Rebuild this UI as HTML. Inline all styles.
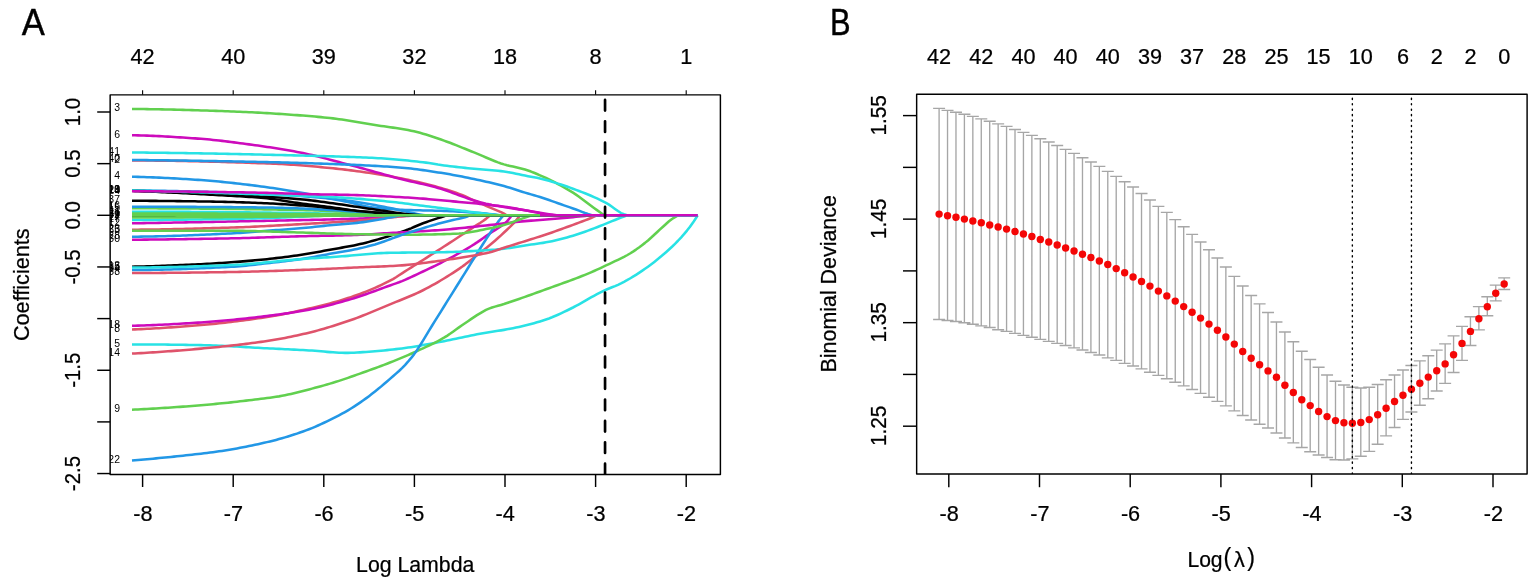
<!DOCTYPE html>
<html lang="en">
<head>
<meta charset="utf-8">
<title>LASSO coefficient paths and cross-validation</title>
<style>
html,body{margin:0;padding:0;background:#ffffff;}
body{width:1535px;height:584px;overflow:hidden;}
svg{display:block;}
</style>
</head>
<body>
<svg width="1535" height="584" viewBox="0 0 1535 584">
<rect x="0" y="0" width="1535" height="584" fill="#ffffff"/>
<defs><clipPath id="clipA"><rect x="110.15" y="94.85" width="610.25" height="379.65"/></clipPath><clipPath id="clipB"><rect x="916.65" y="94.3" width="610.45" height="379.8"/></clipPath></defs>
<text transform="translate(21.8,34.6) scale(0.93,1)" font-family='"Liberation Sans", "DejaVu Sans", sans-serif' font-size="37.2" fill="#000" stroke="#000" stroke-width="0.4">A</text>
<text transform="translate(829.9,35) scale(0.845,1)" font-family='"Liberation Sans", "DejaVu Sans", sans-serif' font-size="36.5" fill="#000" stroke="#000" stroke-width="0.45">B</text>
<g clip-path="url(#clipA)" fill="none" stroke-width="2.55" stroke-linejoin="round" stroke-linecap="butt">
<path d="M132,190.8 L135,190.92 L138,191.04 L141,191.17 L144,191.29 L147,191.42 L150,191.55 L153,191.69 L156,191.83 L159,191.96 L162,192.11 L165,192.25 L168,192.39 L171,192.54 L174,192.69 L177,192.84 L180,193 L183,193.15 L186,193.31 L189,193.47 L192,193.63 L195,193.79 L198,193.95 L201,194.12 L204,194.28 L207,194.45 L210,194.62 L213,194.79 L216,194.96 L219,195.13 L222,195.3 L225,195.47 L228,195.63 L231,195.8 L234,195.97 L237,196.14 L240,196.32 L243,196.5 L246,196.69 L249,196.89 L252,197.1 L255,197.32 L258,197.55 L261,197.79 L264,198.05 L267,198.33 L270,198.65 L273,199.03 L276,199.45 L279,199.91 L282,200.39 L285,200.9 L288,201.4 L291,201.91 L294,202.4 L297,202.87 L300,203.3 L303,203.71 L306,204.1 L309,204.48 L312,204.86 L315,205.23 L318,205.59 L321,205.96 L324,206.33 L327,206.71 L330,207.1 L333,207.5 L336,207.93 L339,208.38 L342,208.85 L345,209.32 L348,209.78 L351,210.2 L354,210.58 L357,210.9 L360,211.19 L363,211.46 L366,211.71 L369,211.95 L372,212.18 L375,212.4 L378,212.61 L381,212.81 L384,213.01 L387,213.22 L390,213.42 L393,213.63 L396,213.85 L399,214.08 L402,214.31 L405,214.53 L408,214.76 L411,214.99 L414,215.22 L415,215.3 L697.7,215.3" stroke="#000000"/>
<path d="M132,160.5 L135,160.5 L138,160.51 L141,160.52 L144,160.53 L147,160.55 L150,160.57 L153,160.59 L156,160.62 L159,160.65 L162,160.68 L165,160.72 L168,160.76 L171,160.8 L174,160.84 L177,160.89 L180,160.94 L183,161 L186,161.06 L189,161.12 L192,161.18 L195,161.24 L198,161.31 L201,161.38 L204,161.46 L207,161.53 L210,161.61 L213,161.69 L216,161.77 L219,161.85 L222,161.94 L225,162.03 L228,162.12 L231,162.21 L234,162.31 L237,162.4 L240,162.5 L243,162.6 L246,162.7 L249,162.8 L252,162.91 L255,163.01 L258,163.12 L261,163.23 L264,163.34 L267,163.45 L270,163.56 L273,163.67 L276,163.79 L279,163.92 L282,164.07 L285,164.23 L288,164.42 L291,164.61 L294,164.82 L297,165.04 L300,165.28 L303,165.52 L306,165.77 L309,166.03 L312,166.3 L315,166.57 L318,166.85 L321,167.13 L324,167.41 L327,167.69 L330,167.99 L333,168.29 L336,168.61 L339,168.94 L342,169.28 L345,169.64 L348,170 L351,170.38 L354,170.76 L357,171.16 L360,171.56 L363,171.98 L366,172.41 L369,172.85 L372,173.29 L375,173.75 L378,174.22 L381,174.71 L384,175.21 L387,175.73 L390,176.27 L393,176.83 L396,177.4 L399,177.99 L402,178.59 L405,179.21 L408,179.85 L411,180.5 L414,181.17 L417,181.85 L420,182.55 L423,183.27 L426,184 L429,184.75 L432,185.52 L435,186.32 L438,187.15 L441,188.01 L444,188.91 L447,189.83 L450,190.79 L453,191.78 L456,192.82 L459,193.89 L462,195 L465,196.25 L468,197.64 L471,199.08 L474,200.45 L477,201.79 L480,203.12 L483,204.44 L486,205.76 L489,207.07 L492,208.34 L495,209.57 L498,210.81 L501,212.16 L504,213.72 L506.7,215.3 L697.7,215.3" stroke="#DF536B"/>
<path d="M132,109 L135,109.02 L138,109.04 L141,109.07 L144,109.1 L147,109.13 L150,109.17 L153,109.22 L156,109.27 L159,109.32 L162,109.38 L165,109.44 L168,109.51 L171,109.57 L174,109.64 L177,109.72 L180,109.8 L183,109.88 L186,109.96 L189,110.04 L192,110.13 L195,110.22 L198,110.31 L201,110.41 L204,110.5 L207,110.6 L210,110.7 L213,110.79 L216,110.89 L219,111 L222,111.1 L225,111.2 L228,111.31 L231,111.42 L234,111.53 L237,111.65 L240,111.78 L243,111.91 L246,112.04 L249,112.18 L252,112.33 L255,112.48 L258,112.63 L261,112.8 L264,112.96 L267,113.13 L270,113.31 L273,113.49 L276,113.68 L279,113.87 L282,114.07 L285,114.27 L288,114.48 L291,114.69 L294,114.91 L297,115.14 L300,115.37 L303,115.6 L306,115.85 L309,116.09 L312,116.34 L315,116.6 L318,116.86 L321,117.13 L324,117.41 L327,117.69 L330,118.02 L333,118.37 L336,118.76 L339,119.17 L342,119.61 L345,120.06 L348,120.54 L351,121.03 L354,121.52 L357,122.03 L360,122.53 L363,123.04 L366,123.54 L369,124.04 L372,124.53 L375,125 L378,125.46 L381,125.9 L384,126.33 L387,126.76 L390,127.19 L393,127.62 L396,128.07 L399,128.54 L402,129.03 L405,129.55 L408,130.1 L411,130.69 L414,131.33 L417,132.05 L420,132.84 L423,133.69 L426,134.59 L429,135.54 L432,136.52 L435,137.52 L438,138.53 L441,139.54 L444,140.59 L447,141.68 L450,142.81 L453,143.97 L456,145.16 L459,146.36 L462,147.58 L465,148.8 L468,150.02 L471,151.23 L474,152.42 L477,153.63 L480,154.89 L483,156.18 L486,157.48 L489,158.77 L492,160.03 L495,161.24 L498,162.38 L501,163.43 L504,164.38 L507,165.2 L510,165.93 L513,166.61 L516,167.26 L519,167.94 L522,168.68 L525,169.52 L528,170.48 L531,171.57 L534,172.75 L537,174.01 L540,175.31 L543,176.63 L546,178 L549,179.44 L552,180.94 L555,182.48 L558,184.07 L561,185.7 L564,187.37 L567,189.08 L570,190.86 L573,192.71 L576,194.64 L579,196.69 L582,198.91 L585,201.23 L588,203.56 L591,205.82 L594,207.98 L597,210.13 L600,212.3 L603,214.54 L604,215.3 L697.7,215.3" stroke="#61D04F"/>
<path d="M132,176.75 L135,176.81 L138,176.88 L141,176.96 L144,177.05 L147,177.15 L150,177.25 L153,177.37 L156,177.5 L159,177.63 L162,177.77 L165,177.92 L168,178.07 L171,178.23 L174,178.39 L177,178.56 L180,178.74 L183,178.92 L186,179.1 L189,179.29 L192,179.48 L195,179.67 L198,179.87 L201,180.07 L204,180.28 L207,180.51 L210,180.75 L213,181.01 L216,181.28 L219,181.56 L222,181.86 L225,182.16 L228,182.48 L231,182.8 L234,183.13 L237,183.47 L240,183.82 L243,184.17 L246,184.52 L249,184.88 L252,185.24 L255,185.62 L258,186 L261,186.4 L264,186.81 L267,187.24 L270,187.67 L273,188.11 L276,188.56 L279,189.03 L282,189.5 L285,189.98 L288,190.47 L291,190.96 L294,191.47 L297,191.98 L300,192.5 L303,193.04 L306,193.61 L309,194.2 L312,194.82 L315,195.44 L318,196.06 L321,196.69 L324,197.3 L327,197.9 L330,198.49 L333,199.09 L336,199.68 L339,200.27 L342,200.87 L345,201.47 L348,202.09 L351,202.71 L354,203.4 L357,204.14 L360,204.9 L363,205.63 L366,206.31 L369,206.91 L372,207.38 L375,207.72 L378,208.04 L381,208.33 L384,208.61 L387,208.86 L390,209.09 L393,209.3 L396,209.49 L399,209.66 L402,209.81 L405,209.94 L408,210.05 L411,210.14 L414,210.22 L417,210.29 L420,210.35 L423,210.4 L426,210.46 L429,210.52 L432,210.58 L435,210.65 L438,210.74 L441,210.83 L444,210.95 L447,211.07 L450,211.2 L453,211.35 L456,211.5 L459,211.67 L462,211.84 L465,212.03 L468,212.23 L471,212.44 L474,212.66 L477,212.89 L480,213.13 L483,213.38 L486,213.64 L489,213.91 L492,214.21 L495,214.59 L498,215.01 L500,215.3 L697.7,215.3" stroke="#2297E6"/>
<path d="M132,344.4 L135,344.4 L138,344.41 L141,344.42 L144,344.43 L147,344.44 L150,344.46 L153,344.48 L156,344.51 L159,344.53 L162,344.56 L165,344.6 L168,344.63 L171,344.67 L174,344.71 L177,344.75 L180,344.79 L183,344.84 L186,344.88 L189,344.93 L192,344.98 L195,345.03 L198,345.08 L201,345.14 L204,345.19 L207,345.25 L210,345.33 L213,345.43 L216,345.53 L219,345.65 L222,345.79 L225,345.93 L228,346.08 L231,346.24 L234,346.41 L237,346.58 L240,346.75 L243,346.93 L246,347.11 L249,347.29 L252,347.47 L255,347.65 L258,347.82 L261,347.99 L264,348.15 L267,348.3 L270,348.45 L273,348.59 L276,348.74 L279,348.88 L282,349.03 L285,349.17 L288,349.31 L291,349.46 L294,349.61 L297,349.76 L300,349.91 L303,350.07 L306,350.24 L309,350.41 L312,350.6 L315,350.82 L318,351.07 L321,351.33 L324,351.6 L327,351.86 L330,352.11 L333,352.34 L336,352.55 L339,352.71 L342,352.83 L345,352.89 L348,352.89 L351,352.83 L354,352.71 L357,352.55 L360,352.36 L363,352.14 L366,351.91 L369,351.68 L372,351.46 L375,351.24 L378,350.99 L381,350.72 L384,350.44 L387,350.14 L390,349.82 L393,349.49 L396,349.14 L399,348.78 L402,348.41 L405,348.02 L408,347.6 L411,347.15 L414,346.66 L417,346.16 L420,345.64 L423,345.11 L426,344.56 L429,344.02 L432,343.47 L435,342.91 L438,342.34 L441,341.74 L444,341.14 L447,340.53 L450,339.91 L453,339.29 L456,338.67 L459,338.05 L462,337.44 L465,336.83 L468,336.21 L471,335.59 L474,334.96 L477,334.35 L480,333.77 L483,333.21 L486,332.69 L489,332.21 L492,331.75 L495,331.3 L498,330.85 L501,330.38 L504,329.87 L507,329.33 L510,328.77 L513,328.19 L516,327.58 L519,326.94 L522,326.27 L525,325.56 L528,324.82 L531,324.03 L534,323.21 L537,322.35 L540,321.45 L543,320.5 L546,319.5 L549,318.44 L552,317.29 L555,316.05 L558,314.74 L561,313.36 L564,311.94 L567,310.48 L570,308.99 L573,307.5 L576,305.92 L579,304.27 L582,302.57 L585,300.84 L588,299.11 L591,297.41 L594,295.76 L597,294.18 L600,292.65 L603,291.17 L606,289.77 L609,288.5 L612,287.3 L615,286.11 L618,284.83 L621,283.41 L624,281.86 L627,280.22 L630,278.49 L633,276.68 L636,274.8 L639,272.86 L642,270.86 L645,268.81 L648,266.68 L651,264.46 L654,262.16 L657,259.78 L660,257.32 L663,254.78 L666,252.18 L669,249.5 L672,246.72 L675,243.8 L678,240.75 L681,237.55 L684,234.18 L687,230.57 L690,226.71 L693,222.58 L696,218.03 L697.7,215.3" stroke="#28E2E5"/>
<path d="M132,135.25 L135,135.3 L138,135.37 L141,135.44 L144,135.53 L147,135.63 L150,135.75 L153,135.87 L156,136 L159,136.14 L162,136.3 L165,136.45 L168,136.62 L171,136.8 L174,136.98 L177,137.17 L180,137.36 L183,137.56 L186,137.76 L189,137.97 L192,138.18 L195,138.39 L198,138.61 L201,138.82 L204,139.06 L207,139.32 L210,139.6 L213,139.9 L216,140.21 L219,140.54 L222,140.88 L225,141.24 L228,141.61 L231,141.99 L234,142.37 L237,142.76 L240,143.16 L243,143.56 L246,143.96 L249,144.37 L252,144.77 L255,145.18 L258,145.59 L261,146.02 L264,146.45 L267,146.89 L270,147.34 L273,147.8 L276,148.28 L279,148.76 L282,149.25 L285,149.76 L288,150.28 L291,150.81 L294,151.36 L297,151.92 L300,152.5 L303,153.1 L306,153.74 L309,154.4 L312,155.09 L315,155.81 L318,156.55 L321,157.3 L324,158.07 L327,158.86 L330,159.65 L333,160.45 L336,161.26 L339,162.07 L342,162.87 L345,163.68 L348,164.47 L351,165.26 L354,166.06 L357,166.87 L360,167.69 L363,168.52 L366,169.36 L369,170.21 L372,171.05 L375,171.9 L378,172.75 L381,173.59 L384,174.43 L387,175.26 L390,176.09 L393,176.9 L396,177.7 L399,178.49 L402,179.26 L405,179.99 L408,180.71 L411,181.4 L414,182.08 L417,182.76 L420,183.44 L423,184.13 L426,184.83 L429,185.55 L432,186.31 L435,187.09 L438,187.92 L441,188.8 L444,189.77 L447,190.82 L450,191.91 L453,193.02 L456,194.11 L459,195.18 L462,196.28 L465,197.39 L468,198.47 L471,199.5 L474,200.44 L477,201.31 L480,202.14 L483,202.93 L486,203.67 L489,204.33 L492,204.91 L495,205.4 L498,205.84 L501,206.24 L504,206.64 L507,207.07 L510,207.55 L513,208.06 L516,208.6 L519,209.15 L522,209.72 L525,210.29 L528,210.85 L531,211.41 L534,211.99 L537,212.58 L540,213.2 L543,213.87 L546,214.62 L548.5,215.3 L697.7,215.3" stroke="#CD0BBC"/>
<path d="M132,216.3 L135,216.3 L138,216.3 L141,216.3 L144,216.3 L147,216.29 L150,216.29 L153,216.29 L156,216.28 L159,216.28 L162,216.27 L165,216.27 L168,216.26 L171,216.26 L174,216.25 L177,216.25 L180,216.24 L183,216.23 L186,216.22 L189,216.22 L192,216.21 L195,216.2 L198,216.19 L201,216.18 L204,216.17 L207,216.16 L210,216.15 L213,216.14 L216,216.13 L219,216.12 L222,216.11 L225,216.1 L228,216.09 L231,216.08 L234,216.06 L237,216.05 L240,216.04 L243,216.03 L246,216.02 L249,216 L252,215.99 L255,215.98 L258,215.96 L261,215.95 L264,215.93 L267,215.91 L270,215.89 L273,215.87 L276,215.84 L279,215.82 L282,215.79 L285,215.77 L288,215.74 L291,215.71 L294,215.68 L297,215.65 L300,215.62 L303,215.59 L306,215.56 L309,215.53 L312,215.5 L315,215.47 L318,215.43 L321,215.4 L324,215.37 L327,215.33 L330,215.3 L697.7,215.3" stroke="#000000"/>
<path d="M132,329.5 L135,329.39 L138,329.27 L141,329.13 L144,328.99 L147,328.84 L150,328.68 L153,328.52 L156,328.34 L159,328.16 L162,327.97 L165,327.78 L168,327.57 L171,327.37 L174,327.15 L177,326.93 L180,326.7 L183,326.47 L186,326.24 L189,325.99 L192,325.75 L195,325.5 L198,325.25 L201,324.99 L204,324.73 L207,324.47 L210,324.19 L213,323.91 L216,323.61 L219,323.3 L222,322.98 L225,322.65 L228,322.31 L231,321.95 L234,321.59 L237,321.22 L240,320.84 L243,320.45 L246,320.05 L249,319.64 L252,319.22 L255,318.79 L258,318.36 L261,317.91 L264,317.46 L267,317 L270,316.52 L273,316.02 L276,315.5 L279,314.95 L282,314.38 L285,313.79 L288,313.19 L291,312.57 L294,311.93 L297,311.28 L300,310.62 L303,309.95 L306,309.27 L309,308.58 L312,307.88 L315,307.17 L318,306.44 L321,305.7 L324,304.95 L327,304.17 L330,303.38 L333,302.56 L336,301.72 L339,300.85 L342,299.96 L345,299.04 L348,298.09 L351,297.1 L354,296.08 L357,295.02 L360,293.93 L363,292.8 L366,291.62 L369,290.41 L372,289.15 L375,287.85 L378,286.51 L381,285.12 L384,283.68 L387,282.2 L390,280.66 L393,279.07 L396,277.23 L399,275.24 L402,273.33 L405,271.44 L408,269.54 L411,267.63 L414,265.73 L417,263.82 L420,261.91 L423,260 L426,258.08 L429,256.17 L432,254.25 L435,252.33 L438,250.4 L441,248.47 L444,246.54 L447,244.61 L450,242.66 L453,240.71 L456,238.76 L459,236.79 L462,234.81 L465,232.83 L468,230.83 L471,228.83 L474,226.84 L477,224.93 L480,223.03 L483,221.03 L486,218.85 L489,216.26 L490,215.3 L697.7,215.3" stroke="#DF536B"/>
<path d="M132,409.7 L135,409.56 L138,409.42 L141,409.27 L144,409.11 L147,408.95 L150,408.78 L153,408.61 L156,408.43 L159,408.25 L162,408.06 L165,407.87 L168,407.67 L171,407.47 L174,407.27 L177,407.07 L180,406.86 L183,406.64 L186,406.43 L189,406.2 L192,405.97 L195,405.73 L198,405.48 L201,405.23 L204,404.97 L207,404.71 L210,404.44 L213,404.16 L216,403.88 L219,403.59 L222,403.3 L225,403 L228,402.69 L231,402.37 L234,402.03 L237,401.69 L240,401.33 L243,400.98 L246,400.62 L249,400.27 L252,399.91 L255,399.55 L258,399.19 L261,398.81 L264,398.43 L267,398.04 L270,397.65 L273,397.26 L276,396.83 L279,396.37 L282,395.84 L285,395.26 L288,394.62 L291,393.93 L294,393.21 L297,392.46 L300,391.7 L303,390.93 L306,390.16 L309,389.39 L312,388.62 L315,387.83 L318,387.03 L321,386.21 L324,385.37 L327,384.52 L330,383.64 L333,382.75 L336,381.83 L339,380.88 L342,379.89 L345,378.88 L348,377.84 L351,376.79 L354,375.73 L357,374.66 L360,373.58 L363,372.52 L366,371.45 L369,370.38 L372,369.3 L375,368.21 L378,367.12 L381,366 L384,364.87 L387,363.72 L390,362.54 L393,361.34 L396,360.13 L399,358.9 L402,357.65 L405,356.37 L408,355.08 L411,353.77 L414,352.44 L417,351.08 L420,349.71 L423,348.32 L426,346.93 L429,345.51 L432,344.06 L435,342.57 L438,341.02 L441,339.39 L444,337.68 L447,335.82 L450,333.8 L453,331.68 L456,329.52 L459,327.36 L462,325.27 L465,323.25 L468,321.2 L471,319.16 L474,317.14 L477,315.18 L480,313.31 L483,311.54 L486,309.89 L489,308.59 L492,307.55 L495,306.63 L498,305.79 L501,304.94 L504,304.03 L507,303.04 L510,302.04 L513,301.02 L516,299.99 L519,298.95 L522,297.9 L525,296.84 L528,295.77 L531,294.69 L534,293.62 L537,292.53 L540,291.45 L543,290.36 L546,289.27 L549,288.19 L552,287.11 L555,286.04 L558,284.96 L561,283.89 L564,282.8 L567,281.71 L570,280.61 L573,279.49 L576,278.36 L579,277.21 L582,276.03 L585,274.83 L588,273.6 L591,272.33 L594,271.02 L597,269.67 L600,268.29 L603,266.89 L606,265.47 L609,264.05 L612,262.61 L615,261.21 L618,259.8 L621,258.37 L624,256.86 L627,255.25 L630,253.51 L633,251.61 L636,249.58 L639,247.44 L642,245.19 L645,242.87 L648,240.43 L651,237.8 L654,235.04 L657,232.23 L660,229.44 L663,226.73 L666,223.98 L669,221.3 L672,219.01 L675,217.06 L678,215.4 L678.2,215.3 L697.7,215.3" stroke="#61D04F"/>
<path d="M132,190.5 L135,190.51 L138,190.53 L141,190.55 L144,190.57 L147,190.6 L150,190.64 L153,190.67 L156,190.71 L159,190.76 L162,190.8 L165,190.85 L168,190.91 L171,190.97 L174,191.03 L177,191.09 L180,191.15 L183,191.22 L186,191.29 L189,191.36 L192,191.44 L195,191.51 L198,191.59 L201,191.67 L204,191.75 L207,191.83 L210,191.92 L213,192 L216,192.09 L219,192.18 L222,192.26 L225,192.35 L228,192.44 L231,192.53 L234,192.62 L237,192.72 L240,192.83 L243,192.94 L246,193.06 L249,193.18 L252,193.3 L255,193.44 L258,193.57 L261,193.72 L264,193.87 L267,194.02 L270,194.18 L273,194.34 L276,194.5 L279,194.68 L282,194.85 L285,195.03 L288,195.22 L291,195.41 L294,195.6 L297,195.8 L300,196 L303,196.21 L306,196.43 L309,196.67 L312,196.92 L315,197.17 L318,197.45 L321,197.73 L324,198.02 L327,198.33 L330,198.64 L333,198.97 L336,199.3 L339,199.65 L342,200 L345,200.37 L348,200.74 L351,201.13 L354,201.54 L357,201.98 L360,202.45 L363,202.94 L366,203.45 L369,203.98 L372,204.53 L375,205.08 L378,205.66 L381,206.24 L384,206.82 L387,207.41 L390,208 L393,208.61 L396,209.27 L399,209.95 L402,210.64 L405,211.33 L408,212.02 L411,212.68 L414,213.3 L417,213.88 L420,214.43 L423,214.96 L425,215.3 L697.7,215.3" stroke="#2297E6"/>
<path d="M132,211.7 L135,211.7 L138,211.7 L141,211.7 L144,211.71 L147,211.71 L150,211.72 L153,211.73 L156,211.73 L159,211.74 L162,211.75 L165,211.76 L168,211.77 L171,211.79 L174,211.8 L177,211.81 L180,211.83 L183,211.85 L186,211.86 L189,211.88 L192,211.9 L195,211.92 L198,211.94 L201,211.96 L204,211.98 L207,212 L210,212.03 L213,212.05 L216,212.08 L219,212.1 L222,212.13 L225,212.15 L228,212.18 L231,212.21 L234,212.24 L237,212.27 L240,212.3 L243,212.33 L246,212.36 L249,212.39 L252,212.42 L255,212.45 L258,212.49 L261,212.52 L264,212.56 L267,212.59 L270,212.63 L273,212.66 L276,212.7 L279,212.73 L282,212.77 L285,212.81 L288,212.85 L291,212.88 L294,212.92 L297,212.96 L300,213 L303,213.04 L306,213.09 L309,213.14 L312,213.2 L315,213.26 L318,213.33 L321,213.4 L324,213.47 L327,213.55 L330,213.63 L333,213.72 L336,213.8 L339,213.89 L342,213.99 L345,214.08 L348,214.18 L351,214.28 L354,214.38 L357,214.49 L360,214.59 L363,214.7 L366,214.8 L369,214.91 L372,215.01 L375,215.12 L378,215.23 L380,215.3 L697.7,215.3" stroke="#28E2E5"/>
<path d="M132,223.3 L135,223.25 L138,223.21 L141,223.16 L144,223.11 L147,223.06 L150,223.01 L153,222.96 L156,222.91 L159,222.86 L162,222.81 L165,222.76 L168,222.71 L171,222.65 L174,222.6 L177,222.55 L180,222.49 L183,222.44 L186,222.39 L189,222.33 L192,222.28 L195,222.22 L198,222.17 L201,222.11 L204,222.05 L207,222 L210,221.94 L213,221.88 L216,221.82 L219,221.76 L222,221.71 L225,221.65 L228,221.59 L231,221.53 L234,221.47 L237,221.41 L240,221.35 L243,221.29 L246,221.23 L249,221.17 L252,221.1 L255,221.04 L258,220.98 L261,220.92 L264,220.86 L267,220.79 L270,220.73 L273,220.67 L276,220.61 L279,220.55 L282,220.49 L285,220.43 L288,220.37 L291,220.31 L294,220.26 L297,220.2 L300,220.14 L303,220.08 L306,220.01 L309,219.95 L312,219.89 L315,219.82 L318,219.75 L321,219.69 L324,219.62 L327,219.54 L330,219.47 L333,219.39 L336,219.31 L339,219.23 L342,219.14 L345,219.05 L348,218.96 L351,218.87 L354,218.77 L357,218.66 L360,218.55 L363,218.41 L366,218.26 L369,218.1 L372,217.93 L375,217.76 L378,217.57 L381,217.39 L384,217.2 L387,217.02 L390,216.84 L393,216.67 L396,216.5 L399,216.35 L402,216.21 L405,216.07 L408,215.93 L411,215.8 L414,215.67 L417,215.54 L420,215.42 L423,215.3 L697.7,215.3" stroke="#CD0BBC"/>
<path d="M132,266.7 L135,266.64 L138,266.57 L141,266.5 L144,266.43 L147,266.34 L150,266.25 L153,266.16 L156,266.06 L159,265.96 L162,265.85 L165,265.74 L168,265.62 L171,265.51 L174,265.38 L177,265.26 L180,265.13 L183,264.99 L186,264.86 L189,264.72 L192,264.58 L195,264.44 L198,264.3 L201,264.15 L204,264 L207,263.84 L210,263.67 L213,263.5 L216,263.32 L219,263.13 L222,262.93 L225,262.73 L228,262.52 L231,262.31 L234,262.09 L237,261.86 L240,261.62 L243,261.38 L246,261.14 L249,260.89 L252,260.63 L255,260.35 L258,260.07 L261,259.78 L264,259.47 L267,259.15 L270,258.82 L273,258.48 L276,258.13 L279,257.77 L282,257.4 L285,257.02 L288,256.64 L291,256.24 L294,255.83 L297,255.42 L300,255 L303,254.56 L306,254.09 L309,253.59 L312,253.07 L315,252.53 L318,251.98 L321,251.42 L324,250.86 L327,250.3 L330,249.74 L333,249.2 L336,248.67 L339,248.15 L342,247.63 L345,247.1 L348,246.57 L351,246 L354,245.41 L357,244.79 L360,244.11 L363,243.4 L366,242.66 L369,241.88 L372,241.07 L375,240.24 L378,239.39 L381,238.51 L384,237.61 L387,236.68 L390,235.73 L393,234.76 L396,233.76 L399,232.74 L402,231.69 L405,230.62 L408,229.51 L411,228.31 L414,227.03 L417,225.74 L420,224.48 L423,223.3 L426,222.21 L429,221.16 L432,220.15 L435,219.15 L438,218.16 L441,217.17 L444,216.18 L446.7,215.3 L697.7,215.3" stroke="#000000"/>
<path d="M132,353.6 L135,353.45 L138,353.29 L141,353.12 L144,352.94 L147,352.76 L150,352.58 L153,352.38 L156,352.18 L159,351.98 L162,351.77 L165,351.55 L168,351.33 L171,351.11 L174,350.87 L177,350.64 L180,350.4 L183,350.15 L186,349.9 L189,349.65 L192,349.4 L195,349.14 L198,348.87 L201,348.61 L204,348.34 L207,348.06 L210,347.78 L213,347.5 L216,347.21 L219,346.91 L222,346.6 L225,346.29 L228,345.97 L231,345.64 L234,345.31 L237,344.96 L240,344.61 L243,344.25 L246,343.88 L249,343.49 L252,343.1 L255,342.7 L258,342.29 L261,341.87 L264,341.44 L267,341 L270,340.54 L273,340.06 L276,339.55 L279,339.02 L282,338.47 L285,337.9 L288,337.31 L291,336.7 L294,336.07 L297,335.43 L300,334.76 L303,334.08 L306,333.39 L309,332.68 L312,331.94 L315,331.17 L318,330.37 L321,329.54 L324,328.68 L327,327.8 L330,326.89 L333,325.96 L336,325 L339,324.03 L342,323.04 L345,322.04 L348,321.02 L351,320 L354,318.94 L357,317.84 L360,316.71 L363,315.55 L366,314.36 L369,313.15 L372,311.92 L375,310.68 L378,309.43 L381,308.17 L384,306.91 L387,305.65 L390,304.4 L393,303.15 L396,301.93 L399,300.71 L402,299.5 L405,298.28 L408,297.04 L411,295.77 L414,294.47 L417,293.13 L420,291.73 L423,290.27 L426,288.73 L429,287.13 L432,285.48 L435,283.78 L438,282.04 L441,280.27 L444,278.48 L447,276.66 L450,274.79 L453,272.88 L456,270.91 L459,268.89 L462,266.8 L465,264.6 L468,262.27 L471,259.88 L474,257.52 L477,255.22 L480,252.92 L483,250.61 L486,248.26 L489,245.83 L492,243.31 L495,240.72 L498,238.06 L501,235.33 L504,232.55 L507,229.71 L510,226.86 L513,223.87 L516,220.53 L519,216.67 L520,215.3 L697.7,215.3" stroke="#DF536B"/>
<path d="M132,208.3 L135,208.3 L138,208.3 L141,208.31 L144,208.31 L147,208.32 L150,208.32 L153,208.33 L156,208.34 L159,208.35 L162,208.36 L165,208.38 L168,208.39 L171,208.41 L174,208.42 L177,208.44 L180,208.46 L183,208.48 L186,208.5 L189,208.52 L192,208.54 L195,208.57 L198,208.59 L201,208.62 L204,208.65 L207,208.68 L210,208.7 L213,208.74 L216,208.77 L219,208.8 L222,208.83 L225,208.87 L228,208.9 L231,208.94 L234,208.97 L237,209.01 L240,209.05 L243,209.09 L246,209.13 L249,209.17 L252,209.22 L255,209.26 L258,209.3 L261,209.35 L264,209.39 L267,209.44 L270,209.49 L273,209.54 L276,209.58 L279,209.63 L282,209.68 L285,209.73 L288,209.79 L291,209.84 L294,209.89 L297,209.95 L300,210 L303,210.06 L306,210.13 L309,210.22 L312,210.31 L315,210.42 L318,210.53 L321,210.65 L324,210.79 L327,210.93 L330,211.07 L333,211.22 L336,211.38 L339,211.55 L342,211.72 L345,211.89 L348,212.06 L351,212.24 L354,212.42 L357,212.61 L360,212.79 L363,212.98 L366,213.16 L369,213.34 L372,213.53 L375,213.71 L378,213.88 L381,214.06 L384,214.24 L387,214.43 L390,214.63 L393,214.83 L396,215.03 L399,215.23 L400,215.3 L697.7,215.3" stroke="#61D04F"/>
<path d="M132,206.7 L135,206.7 L138,206.7 L141,206.7 L144,206.71 L147,206.71 L150,206.72 L153,206.72 L156,206.73 L159,206.73 L162,206.74 L165,206.75 L168,206.76 L171,206.77 L174,206.78 L177,206.79 L180,206.81 L183,206.82 L186,206.84 L189,206.85 L192,206.87 L195,206.88 L198,206.9 L201,206.92 L204,206.94 L207,206.96 L210,206.98 L213,207 L216,207.02 L219,207.04 L222,207.07 L225,207.09 L228,207.12 L231,207.14 L234,207.17 L237,207.2 L240,207.22 L243,207.25 L246,207.28 L249,207.31 L252,207.34 L255,207.37 L258,207.4 L261,207.44 L264,207.47 L267,207.5 L270,207.54 L273,207.6 L276,207.66 L279,207.73 L282,207.82 L285,207.91 L288,208.01 L291,208.11 L294,208.23 L297,208.35 L300,208.47 L303,208.59 L306,208.72 L309,208.86 L312,208.99 L315,209.12 L318,209.26 L321,209.41 L324,209.57 L327,209.75 L330,209.94 L333,210.13 L336,210.33 L339,210.54 L342,210.75 L345,210.96 L348,211.17 L351,211.37 L354,211.57 L357,211.76 L360,211.96 L363,212.16 L366,212.36 L369,212.57 L372,212.78 L375,212.98 L378,213.19 L381,213.39 L384,213.58 L387,213.78 L390,213.96 L393,214.13 L396,214.3 L399,214.45 L402,214.59 L405,214.73 L408,214.86 L411,214.98 L414,215.09 L417,215.2 L420,215.3 L697.7,215.3" stroke="#2297E6"/>
<path d="M132,220 L135,220 L138,219.99 L141,219.99 L144,219.98 L147,219.97 L150,219.95 L153,219.94 L156,219.92 L159,219.9 L162,219.87 L165,219.85 L168,219.82 L171,219.79 L174,219.76 L177,219.72 L180,219.69 L183,219.65 L186,219.61 L189,219.57 L192,219.53 L195,219.49 L198,219.44 L201,219.4 L204,219.35 L207,219.3 L210,219.25 L213,219.2 L216,219.15 L219,219.09 L222,219.04 L225,218.98 L228,218.93 L231,218.87 L234,218.81 L237,218.76 L240,218.7 L243,218.64 L246,218.58 L249,218.52 L252,218.46 L255,218.39 L258,218.32 L261,218.24 L264,218.15 L267,218.06 L270,217.97 L273,217.87 L276,217.76 L279,217.65 L282,217.54 L285,217.42 L288,217.29 L291,217.17 L294,217.04 L297,216.91 L300,216.77 L303,216.63 L306,216.49 L309,216.35 L312,216.2 L315,216.05 L318,215.91 L321,215.76 L324,215.6 L327,215.45 L330,215.3 L697.7,215.3" stroke="#28E2E5"/>
<path d="M132,325.8 L135,325.73 L138,325.64 L141,325.55 L144,325.45 L147,325.35 L150,325.23 L153,325.11 L156,324.98 L159,324.85 L162,324.7 L165,324.56 L168,324.4 L171,324.25 L174,324.08 L177,323.91 L180,323.74 L183,323.56 L186,323.38 L189,323.2 L192,323.01 L195,322.82 L198,322.62 L201,322.43 L204,322.23 L207,322.02 L210,321.81 L213,321.58 L216,321.34 L219,321.09 L222,320.83 L225,320.56 L228,320.28 L231,319.99 L234,319.7 L237,319.39 L240,319.08 L243,318.76 L246,318.44 L249,318.1 L252,317.76 L255,317.42 L258,317.07 L261,316.72 L264,316.36 L267,316 L270,315.63 L273,315.25 L276,314.87 L279,314.47 L282,314.06 L285,313.63 L288,313.19 L291,312.74 L294,312.27 L297,311.79 L300,311.29 L303,310.77 L306,310.24 L309,309.68 L312,309.1 L315,308.48 L318,307.83 L321,307.15 L324,306.44 L327,305.7 L330,304.94 L333,304.16 L336,303.36 L339,302.54 L342,301.7 L345,300.85 L348,299.99 L351,299.11 L354,298.21 L357,297.26 L360,296.27 L363,295.25 L366,294.21 L369,293.14 L372,292.05 L375,290.95 L378,289.85 L381,288.74 L384,287.64 L387,286.54 L390,285.45 L393,284.39 L396,283.35 L399,282.28 L402,281.1 L405,279.84 L408,278.51 L411,277.14 L414,275.74 L417,274.33 L420,272.92 L423,271.52 L426,270.12 L429,268.7 L432,267.27 L435,265.81 L438,264.32 L441,262.79 L444,261.24 L447,259.68 L450,258.1 L453,256.5 L456,254.87 L459,253.22 L462,251.53 L465,249.8 L468,248.04 L471,246.23 L474,244.37 L477,242.41 L480,240.35 L483,238.24 L486,236.11 L489,233.99 L492,231.97 L495,230.1 L498,228.26 L501,226.3 L504,224.06 L507,221.41 L510,217.7 L511.7,215.3 L697.7,215.3" stroke="#CD0BBC"/>
<path d="M132,190.8 L135,190.87 L138,190.95 L141,191.04 L144,191.12 L147,191.21 L150,191.3 L153,191.4 L156,191.5 L159,191.6 L162,191.71 L165,191.81 L168,191.92 L171,192.04 L174,192.16 L177,192.27 L180,192.4 L183,192.52 L186,192.65 L189,192.78 L192,192.91 L195,193.04 L198,193.18 L201,193.32 L204,193.46 L207,193.6 L210,193.74 L213,193.89 L216,194.04 L219,194.18 L222,194.33 L225,194.49 L228,194.64 L231,194.79 L234,194.95 L237,195.11 L240,195.27 L243,195.42 L246,195.59 L249,195.75 L252,195.91 L255,196.07 L258,196.24 L261,196.41 L264,196.59 L267,196.77 L270,196.95 L273,197.15 L276,197.34 L279,197.55 L282,197.76 L285,197.98 L288,198.2 L291,198.44 L294,198.68 L297,198.94 L300,199.2 L303,199.48 L306,199.8 L309,200.13 L312,200.49 L315,200.87 L318,201.26 L321,201.66 L324,202.07 L327,202.48 L330,202.89 L333,203.3 L336,203.72 L339,204.15 L342,204.59 L345,205.04 L348,205.49 L351,205.95 L354,206.4 L357,206.85 L360,207.29 L363,207.74 L366,208.19 L369,208.64 L372,209.09 L375,209.54 L378,209.98 L381,210.42 L384,210.86 L387,211.29 L390,211.75 L393,212.21 L396,212.67 L399,213.12 L402,213.54 L405,213.94 L408,214.29 L411,214.6 L414,214.86 L417,215.1 L420,215.3 L697.7,215.3" stroke="#000000"/>
<path d="M132,213.5 L135,213.5 L138,213.5 L141,213.5 L144,213.5 L147,213.51 L150,213.51 L153,213.51 L156,213.51 L159,213.52 L162,213.52 L165,213.52 L168,213.53 L171,213.53 L174,213.54 L177,213.54 L180,213.55 L183,213.56 L186,213.56 L189,213.57 L192,213.58 L195,213.58 L198,213.59 L201,213.6 L204,213.61 L207,213.62 L210,213.62 L213,213.63 L216,213.64 L219,213.65 L222,213.66 L225,213.67 L228,213.68 L231,213.69 L234,213.7 L237,213.72 L240,213.73 L243,213.74 L246,213.75 L249,213.76 L252,213.78 L255,213.79 L258,213.8 L261,213.81 L264,213.83 L267,213.84 L270,213.85 L273,213.87 L276,213.88 L279,213.9 L282,213.91 L285,213.93 L288,213.94 L291,213.95 L294,213.97 L297,213.98 L300,214 L303,214.02 L306,214.03 L309,214.06 L312,214.08 L315,214.1 L318,214.13 L321,214.16 L324,214.19 L327,214.22 L330,214.25 L333,214.28 L336,214.32 L339,214.36 L342,214.4 L345,214.44 L348,214.48 L351,214.52 L354,214.56 L357,214.61 L360,214.65 L363,214.7 L366,214.74 L369,214.79 L372,214.84 L375,214.89 L378,214.93 L381,214.98 L384,215.03 L387,215.08 L390,215.13 L393,215.18 L396,215.23 L399,215.28 L400,215.3 L697.7,215.3" stroke="#61D04F"/>
<path d="M132,460.4 L135,460.17 L138,459.93 L141,459.69 L144,459.44 L147,459.18 L150,458.92 L153,458.65 L156,458.37 L159,458.09 L162,457.8 L165,457.51 L168,457.22 L171,456.91 L174,456.61 L177,456.3 L180,455.98 L183,455.66 L186,455.34 L189,455.02 L192,454.69 L195,454.35 L198,454.01 L201,453.65 L204,453.29 L207,452.93 L210,452.55 L213,452.15 L216,451.75 L219,451.33 L222,450.9 L225,450.45 L228,449.98 L231,449.48 L234,448.96 L237,448.42 L240,447.86 L243,447.28 L246,446.68 L249,446.07 L252,445.44 L255,444.8 L258,444.14 L261,443.48 L264,442.81 L267,442.12 L270,441.42 L273,440.68 L276,439.9 L279,439.08 L282,438.23 L285,437.36 L288,436.46 L291,435.54 L294,434.58 L297,433.6 L300,432.58 L303,431.52 L306,430.42 L309,429.29 L312,428.09 L315,426.83 L318,425.52 L321,424.17 L324,422.77 L327,421.34 L330,419.88 L333,418.4 L336,416.89 L339,415.34 L342,413.72 L345,412.04 L348,410.3 L351,408.49 L354,406.6 L357,404.64 L360,402.62 L363,400.54 L366,398.39 L369,396.16 L372,393.86 L375,391.51 L378,389.11 L381,386.62 L384,384.06 L387,381.47 L390,378.85 L393,376.26 L396,373.65 L399,370.96 L402,368.11 L405,365.03 L408,361.73 L411,358.19 L414,354.37 L417,350.16 L420,345.54 L423,340.64 L426,335.62 L429,330.61 L432,325.74 L435,320.94 L438,316.14 L441,311.33 L444,306.51 L447,301.7 L450,296.9 L453,292.09 L456,287.28 L459,282.48 L462,277.67 L465,272.86 L468,268.04 L471,263.18 L474,258.32 L477,253.49 L480,248.72 L483,244.04 L486,239.37 L489,234.73 L492,230.21 L495,225.9 L498,221.91 L501,218.2 L503.5,215.3 L697.7,215.3" stroke="#2297E6"/>
<path d="M132,190.5 L135,190.57 L138,190.65 L141,190.72 L144,190.8 L147,190.88 L150,190.96 L153,191.04 L156,191.12 L159,191.2 L162,191.28 L165,191.36 L168,191.44 L171,191.53 L174,191.61 L177,191.7 L180,191.79 L183,191.87 L186,191.96 L189,192.05 L192,192.14 L195,192.23 L198,192.32 L201,192.41 L204,192.51 L207,192.6 L210,192.69 L213,192.79 L216,192.88 L219,192.98 L222,193.07 L225,193.17 L228,193.27 L231,193.37 L234,193.47 L237,193.56 L240,193.66 L243,193.76 L246,193.86 L249,193.97 L252,194.07 L255,194.17 L258,194.27 L261,194.37 L264,194.46 L267,194.56 L270,194.66 L273,194.76 L276,194.86 L279,194.96 L282,195.06 L285,195.16 L288,195.26 L291,195.37 L294,195.48 L297,195.58 L300,195.69 L303,195.81 L306,195.92 L309,196.04 L312,196.17 L315,196.29 L318,196.42 L321,196.55 L324,196.69 L327,196.83 L330,196.98 L333,197.13 L336,197.28 L339,197.45 L342,197.61 L345,197.8 L348,197.99 L351,198.2 L354,198.42 L357,198.65 L360,198.89 L363,199.14 L366,199.4 L369,199.66 L372,199.94 L375,200.22 L378,200.51 L381,200.8 L384,201.1 L387,201.4 L390,201.7 L393,202.02 L396,202.35 L399,202.71 L402,203.08 L405,203.46 L408,203.85 L411,204.25 L414,204.64 L417,205.03 L420,205.42 L423,205.8 L426,206.17 L429,206.54 L432,206.91 L435,207.28 L438,207.65 L441,208.03 L444,208.4 L447,208.77 L450,209.15 L453,209.53 L456,209.91 L459,210.3 L462,210.69 L465,211.09 L468,211.49 L471,211.9 L474,212.3 L477,212.69 L480,213.08 L483,213.46 L486,213.84 L489,214.21 L492,214.58 L495,214.94 L498,215.3 L697.7,215.3" stroke="#28E2E5"/>
<path d="M132,191.25 L135,191.25 L138,191.26 L141,191.27 L144,191.28 L147,191.29 L150,191.3 L153,191.32 L156,191.33 L159,191.35 L162,191.37 L165,191.4 L168,191.42 L171,191.45 L174,191.47 L177,191.5 L180,191.53 L183,191.57 L186,191.6 L189,191.63 L192,191.67 L195,191.7 L198,191.74 L201,191.78 L204,191.82 L207,191.86 L210,191.9 L213,191.94 L216,191.98 L219,192.03 L222,192.07 L225,192.12 L228,192.16 L231,192.21 L234,192.25 L237,192.3 L240,192.34 L243,192.39 L246,192.44 L249,192.48 L252,192.53 L255,192.59 L258,192.65 L261,192.72 L264,192.79 L267,192.87 L270,192.95 L273,193.04 L276,193.13 L279,193.22 L282,193.32 L285,193.41 L288,193.51 L291,193.6 L294,193.7 L297,193.79 L300,193.88 L303,193.97 L306,194.06 L309,194.14 L312,194.22 L315,194.3 L318,194.37 L321,194.43 L324,194.48 L327,194.53 L330,194.57 L333,194.6 L336,194.64 L339,194.68 L342,194.74 L345,194.8 L348,194.88 L351,194.96 L354,195.05 L357,195.14 L360,195.24 L363,195.35 L366,195.47 L369,195.59 L372,195.72 L375,195.85 L378,195.99 L381,196.13 L384,196.28 L387,196.43 L390,196.58 L393,196.74 L396,196.9 L399,197.07 L402,197.23 L405,197.4 L408,197.58 L411,197.76 L414,197.96 L417,198.18 L420,198.4 L423,198.64 L426,198.89 L429,199.15 L432,199.41 L435,199.68 L438,199.96 L441,200.23 L444,200.52 L447,200.8 L450,201.08 L453,201.36 L456,201.64 L459,201.91 L462,202.18 L465,202.45 L468,202.73 L471,203.01 L474,203.29 L477,203.59 L480,203.89 L483,204.21 L486,204.54 L489,204.88 L492,205.25 L495,205.64 L498,206.06 L501,206.5 L504,206.96 L507,207.43 L510,207.91 L513,208.4 L516,208.88 L519,209.37 L522,209.84 L525,210.31 L528,210.79 L531,211.28 L534,211.76 L537,212.25 L540,212.74 L543,213.22 L546,213.69 L549,214.15 L552,214.61 L555,215.05 L556.7,215.3 L697.7,215.3" stroke="#CD0BBC"/>
<path d="M132,229.7 L135,229.68 L138,229.66 L141,229.63 L144,229.6 L147,229.57 L150,229.53 L153,229.49 L156,229.45 L159,229.4 L162,229.35 L165,229.3 L168,229.24 L171,229.18 L174,229.12 L177,229.05 L180,228.98 L183,228.91 L186,228.84 L189,228.77 L192,228.69 L195,228.61 L198,228.53 L201,228.45 L204,228.37 L207,228.28 L210,228.19 L213,228.11 L216,228.02 L219,227.93 L222,227.84 L225,227.75 L228,227.65 L231,227.56 L234,227.47 L237,227.37 L240,227.26 L243,227.15 L246,227.02 L249,226.9 L252,226.76 L255,226.62 L258,226.48 L261,226.33 L264,226.18 L267,226.02 L270,225.86 L273,225.7 L276,225.54 L279,225.37 L282,225.2 L285,225.03 L288,224.87 L291,224.7 L294,224.53 L297,224.36 L300,224.2 L303,224.04 L306,223.87 L309,223.71 L312,223.55 L315,223.38 L318,223.22 L321,223.05 L324,222.88 L327,222.71 L330,222.53 L333,222.35 L336,222.17 L339,221.98 L342,221.79 L345,221.59 L348,221.38 L351,221.17 L354,220.95 L357,220.72 L360,220.48 L363,220.22 L366,219.95 L369,219.66 L372,219.37 L375,219.06 L378,218.76 L381,218.44 L384,218.13 L387,217.81 L390,217.5 L393,217.19 L396,216.86 L399,216.54 L402,216.21 L405,215.87 L408,215.53 L410,215.3 L697.7,215.3" stroke="#DF536B"/>
<path d="M132,217.5 L135,217.5 L138,217.5 L141,217.5 L144,217.49 L147,217.49 L150,217.48 L153,217.47 L156,217.47 L159,217.46 L162,217.45 L165,217.44 L168,217.43 L171,217.41 L174,217.4 L177,217.39 L180,217.37 L183,217.36 L186,217.34 L189,217.33 L192,217.31 L195,217.29 L198,217.27 L201,217.25 L204,217.24 L207,217.22 L210,217.19 L213,217.17 L216,217.15 L219,217.13 L222,217.11 L225,217.09 L228,217.06 L231,217.04 L234,217.01 L237,216.99 L240,216.97 L243,216.94 L246,216.92 L249,216.89 L252,216.87 L255,216.84 L258,216.82 L261,216.79 L264,216.76 L267,216.73 L270,216.7 L273,216.67 L276,216.63 L279,216.59 L282,216.55 L285,216.51 L288,216.47 L291,216.42 L294,216.38 L297,216.33 L300,216.28 L303,216.23 L306,216.18 L309,216.12 L312,216.07 L315,216.01 L318,215.95 L321,215.9 L324,215.84 L327,215.78 L330,215.72 L333,215.66 L336,215.59 L339,215.53 L342,215.47 L345,215.41 L348,215.34 L350,215.3 L697.7,215.3" stroke="#61D04F"/>
<path d="M132,236.7 L135,236.69 L138,236.66 L141,236.64 L144,236.6 L147,236.56 L150,236.5 L153,236.45 L156,236.38 L159,236.31 L162,236.24 L165,236.16 L168,236.07 L171,235.98 L174,235.88 L177,235.78 L180,235.67 L183,235.56 L186,235.45 L189,235.33 L192,235.21 L195,235.08 L198,234.95 L201,234.82 L204,234.69 L207,234.55 L210,234.41 L213,234.27 L216,234.13 L219,233.99 L222,233.84 L225,233.69 L228,233.55 L231,233.4 L234,233.25 L237,233.08 L240,232.89 L243,232.68 L246,232.46 L249,232.22 L252,231.98 L255,231.74 L258,231.49 L261,231.24 L264,231.01 L267,230.78 L270,230.56 L273,230.34 L276,230.12 L279,229.91 L282,229.69 L285,229.48 L288,229.25 L291,229.03 L294,228.79 L297,228.55 L300,228.3 L303,228.03 L306,227.75 L309,227.45 L312,227.15 L315,226.84 L318,226.52 L321,226.2 L324,225.89 L327,225.58 L330,225.29 L333,225 L336,224.73 L339,224.49 L342,224.25 L345,224.01 L348,223.76 L351,223.5 L354,223.21 L357,222.89 L360,222.53 L363,222.13 L366,221.7 L369,221.25 L372,220.77 L375,220.27 L378,219.75 L381,219.22 L384,218.68 L387,218.12 L390,217.52 L393,216.89 L396,216.22 L399,215.53 L400,215.3 L697.7,215.3" stroke="#2297E6"/>
<path d="M132,239.7 L135,239.69 L138,239.67 L141,239.65 L144,239.63 L147,239.61 L150,239.58 L153,239.55 L156,239.53 L159,239.49 L162,239.46 L165,239.43 L168,239.39 L171,239.35 L174,239.31 L177,239.27 L180,239.23 L183,239.18 L186,239.14 L189,239.09 L192,239.04 L195,238.99 L198,238.94 L201,238.89 L204,238.84 L207,238.79 L210,238.73 L213,238.68 L216,238.62 L219,238.57 L222,238.51 L225,238.45 L228,238.4 L231,238.34 L234,238.28 L237,238.22 L240,238.15 L243,238.07 L246,237.99 L249,237.91 L252,237.82 L255,237.73 L258,237.63 L261,237.54 L264,237.44 L267,237.34 L270,237.24 L273,237.14 L276,237.04 L279,236.94 L282,236.84 L285,236.74 L288,236.65 L291,236.55 L294,236.47 L297,236.38 L300,236.3 L303,236.22 L306,236.15 L309,236.09 L312,236.02 L315,235.96 L318,235.9 L321,235.85 L324,235.79 L327,235.73 L330,235.67 L333,235.61 L336,235.54 L339,235.48 L342,235.41 L345,235.33 L348,235.25 L351,235.16 L354,235.07 L357,234.96 L360,234.84 L363,234.7 L366,234.53 L369,234.36 L372,234.17 L375,233.97 L378,233.78 L381,233.57 L384,233.38 L387,233.18 L390,233 L393,232.82 L396,232.65 L399,232.48 L402,232.32 L405,232.15 L408,231.99 L411,231.82 L414,231.65 L417,231.48 L420,231.31 L423,231.13 L426,230.95 L429,230.76 L432,230.57 L435,230.36 L438,230.15 L441,229.92 L444,229.69 L447,229.43 L450,229.17 L453,228.89 L456,228.61 L459,228.31 L462,228.01 L465,227.69 L468,227.38 L471,227.06 L474,226.73 L477,226.41 L480,226.08 L483,225.75 L486,225.43 L489,225.11 L492,224.78 L495,224.45 L498,224.1 L501,223.75 L504,223.39 L507,223.03 L510,222.68 L513,222.33 L516,222 L519,221.69 L522,221.39 L525,221.12 L528,220.87 L531,220.63 L534,220.41 L537,220.19 L540,219.97 L543,219.76 L546,219.55 L549,219.32 L552,219.09 L555,218.85 L558,218.58 L561,218.31 L564,218.03 L567,217.75 L570,217.45 L573,217.15 L576,216.84 L579,216.52 L582,216.19 L585,215.86 L588,215.53 L590,215.3 L697.7,215.3" stroke="#CD0BBC"/>
<path d="M132,230.8 L135,230.8 L138,230.8 L141,230.8 L144,230.8 L147,230.8 L150,230.8 L153,230.8 L156,230.8 L159,230.8 L162,230.8 L165,230.8 L168,230.8 L171,230.8 L174,230.8 L177,230.8 L180,230.8 L183,230.8 L186,230.8 L189,230.8 L192,230.8 L195,230.8 L198,230.8 L201,230.8 L204,230.8 L207,230.8 L210,230.8 L213,230.8 L216,230.8 L219,230.8 L222,230.8 L225,230.8 L228,230.8 L231,230.8 L234,230.8 L237,230.81 L240,230.83 L243,230.87 L246,230.91 L249,230.96 L252,231.03 L255,231.1 L258,231.17 L261,231.25 L264,231.34 L267,231.43 L270,231.53 L273,231.63 L276,231.73 L279,231.83 L282,231.93 L285,232.03 L288,232.13 L291,232.23 L294,232.32 L297,232.41 L300,232.5 L303,232.59 L306,232.68 L309,232.78 L312,232.88 L315,232.98 L318,233.09 L321,233.19 L324,233.3 L327,233.41 L330,233.51 L333,233.61 L336,233.71 L339,233.8 L342,233.89 L345,233.97 L348,234.05 L351,234.11 L354,234.17 L357,234.21 L360,234.26 L363,234.3 L366,234.35 L369,234.39 L372,234.43 L375,234.47 L378,234.5 L381,234.54 L384,234.57 L387,234.6 L390,234.63 L393,234.65 L396,234.67 L399,234.68 L402,234.69 L405,234.7 L408,234.7 L411,234.69 L414,234.68 L417,234.65 L420,234.62 L423,234.59 L426,234.54 L429,234.49 L432,234.43 L435,234.36 L438,234.29 L441,234.21 L444,234.13 L447,234.04 L450,233.94 L453,233.83 L456,233.73 L459,233.58 L462,233.33 L465,233 L468,232.58 L471,232.09 L474,231.55 L477,230.98 L480,230.37 L483,229.74 L486,229.12 L489,228.5 L492,227.89 L495,227.23 L498,226.53 L501,225.77 L504,224.97 L507,224.11 L510,223.15 L513,222.07 L516,220.93 L519,219.78 L522,218.66 L525,217.6 L528,216.56 L531,215.54 L531.7,215.3 L697.7,215.3" stroke="#61D04F"/>
<path d="M132,270 L135,270 L138,269.98 L141,269.97 L144,269.94 L147,269.91 L150,269.87 L153,269.82 L156,269.76 L159,269.7 L162,269.64 L165,269.56 L168,269.49 L171,269.4 L174,269.31 L177,269.22 L180,269.12 L183,269.01 L186,268.9 L189,268.79 L192,268.67 L195,268.55 L198,268.42 L201,268.29 L204,268.16 L207,268.02 L210,267.88 L213,267.73 L216,267.58 L219,267.43 L222,267.28 L225,267.12 L228,266.97 L231,266.81 L234,266.64 L237,266.45 L240,266.21 L243,265.94 L246,265.65 L249,265.33 L252,265 L255,264.65 L258,264.3 L261,263.95 L264,263.6 L267,263.27 L270,262.93 L273,262.6 L276,262.26 L279,261.91 L282,261.56 L285,261.2 L288,260.82 L291,260.44 L294,260.04 L297,259.63 L300,259.2 L303,258.75 L306,258.26 L309,257.75 L312,257.21 L315,256.66 L318,256.1 L321,255.54 L324,254.97 L327,254.4 L330,253.84 L333,253.3 L336,252.78 L339,252.26 L342,251.76 L345,251.25 L348,250.73 L351,250.18 L354,249.61 L357,248.99 L360,248.33 L363,247.62 L366,246.88 L369,246.1 L372,245.28 L375,244.42 L378,243.48 L381,242.48 L384,241.44 L387,240.36 L390,239.26 L393,238.15 L396,237.04 L399,235.94 L402,234.88 L405,233.86 L408,232.88 L411,231.92 L414,230.97 L417,230.03 L420,229.1 L423,228.18 L426,227.27 L429,226.39 L432,225.52 L435,224.67 L438,223.84 L441,223.04 L444,222.27 L447,221.53 L450,220.82 L453,220.1 L456,219.37 L459,218.66 L462,217.98 L465,217.22 L468,216.21 L470,215.3 L697.7,215.3" stroke="#2297E6"/>
<path d="M132,267.5 L135,267.5 L138,267.49 L141,267.47 L144,267.45 L147,267.43 L150,267.4 L153,267.36 L156,267.32 L159,267.27 L162,267.22 L165,267.16 L168,267.1 L171,267.04 L174,266.97 L177,266.9 L180,266.82 L183,266.74 L186,266.66 L189,266.57 L192,266.48 L195,266.39 L198,266.29 L201,266.19 L204,266.09 L207,265.99 L210,265.88 L213,265.77 L216,265.66 L219,265.55 L222,265.43 L225,265.32 L228,265.2 L231,265.08 L234,264.96 L237,264.82 L240,264.65 L243,264.46 L246,264.24 L249,264.01 L252,263.77 L255,263.5 L258,263.23 L261,262.94 L264,262.64 L267,262.34 L270,262.04 L273,261.73 L276,261.42 L279,261.11 L282,260.81 L285,260.52 L288,260.23 L291,259.95 L294,259.69 L297,259.43 L300,259.2 L303,258.98 L306,258.76 L309,258.56 L312,258.35 L315,258.15 L318,257.96 L321,257.76 L324,257.57 L327,257.37 L330,257.18 L333,256.98 L336,256.78 L339,256.57 L342,256.35 L345,256.12 L348,255.87 L351,255.6 L354,255.33 L357,255.05 L360,254.77 L363,254.5 L366,254.23 L369,253.97 L372,253.73 L375,253.51 L378,253.3 L381,253.13 L384,252.98 L387,252.87 L390,252.8 L393,252.75 L396,252.71 L399,252.67 L402,252.64 L405,252.61 L408,252.59 L411,252.57 L414,252.55 L417,252.53 L420,252.51 L423,252.49 L426,252.47 L429,252.44 L432,252.41 L435,252.37 L438,252.33 L441,252.28 L444,252.22 L447,252.14 L450,252.06 L453,251.95 L456,251.84 L459,251.71 L462,251.58 L465,251.44 L468,251.28 L471,251.12 L474,250.96 L477,250.79 L480,250.61 L483,250.43 L486,250.25 L489,250.06 L492,249.87 L495,249.65 L498,249.39 L501,249.1 L504,248.74 L507,248.33 L510,247.87 L513,247.39 L516,246.89 L519,246.39 L522,245.91 L525,245.45 L528,245.02 L531,244.6 L534,244.19 L537,243.77 L540,243.33 L543,242.87 L546,242.36 L549,241.81 L552,241.2 L555,240.53 L558,239.81 L561,239.06 L564,238.26 L567,237.43 L570,236.58 L573,235.7 L576,234.78 L579,233.79 L582,232.76 L585,231.69 L588,230.6 L591,229.48 L594,228.35 L597,227.22 L600,226.04 L603,224.83 L606,223.61 L609,222.4 L612,221.19 L615,219.99 L618,218.79 L621,217.61 L624,216.45 L627,215.3 L697.7,215.3" stroke="#28E2E5"/>
<path d="M132,200.8 L135,200.8 L138,200.81 L141,200.81 L144,200.82 L147,200.84 L150,200.85 L153,200.87 L156,200.89 L159,200.92 L162,200.94 L165,200.97 L168,201 L171,201.04 L174,201.07 L177,201.11 L180,201.14 L183,201.18 L186,201.22 L189,201.27 L192,201.31 L195,201.35 L198,201.4 L201,201.44 L204,201.49 L207,201.54 L210,201.59 L213,201.64 L216,201.69 L219,201.74 L222,201.8 L225,201.86 L228,201.94 L231,202.01 L234,202.1 L237,202.18 L240,202.28 L243,202.38 L246,202.48 L249,202.59 L252,202.7 L255,202.81 L258,202.93 L261,203.06 L264,203.18 L267,203.31 L270,203.45 L273,203.6 L276,203.76 L279,203.93 L282,204.11 L285,204.3 L288,204.5 L291,204.7 L294,204.92 L297,205.14 L300,205.36 L303,205.59 L306,205.83 L309,206.07 L312,206.31 L315,206.56 L318,206.81 L321,207.08 L324,207.36 L327,207.67 L330,207.98 L333,208.3 L336,208.63 L339,208.97 L342,209.3 L345,209.64 L348,209.97 L351,210.29 L354,210.6 L357,210.9 L360,211.19 L363,211.48 L366,211.77 L369,212.06 L372,212.34 L375,212.63 L378,212.91 L381,213.18 L384,213.46 L387,213.73 L390,214 L393,214.27 L396,214.53 L399,214.79 L402,215.05 L405,215.3 L697.7,215.3" stroke="#000000"/>
<path d="M132,273 L135,273 L138,272.99 L141,272.99 L144,272.98 L147,272.97 L150,272.96 L153,272.94 L156,272.92 L159,272.91 L162,272.88 L165,272.86 L168,272.84 L171,272.81 L174,272.78 L177,272.75 L180,272.72 L183,272.69 L186,272.65 L189,272.62 L192,272.58 L195,272.55 L198,272.51 L201,272.47 L204,272.43 L207,272.39 L210,272.34 L213,272.3 L216,272.26 L219,272.21 L222,272.17 L225,272.12 L228,272.08 L231,272.03 L234,271.98 L237,271.93 L240,271.88 L243,271.81 L246,271.75 L249,271.67 L252,271.6 L255,271.52 L258,271.43 L261,271.34 L264,271.25 L267,271.16 L270,271.06 L273,270.96 L276,270.86 L279,270.75 L282,270.65 L285,270.54 L288,270.43 L291,270.33 L294,270.22 L297,270.11 L300,270 L303,269.89 L306,269.77 L309,269.65 L312,269.53 L315,269.4 L318,269.27 L321,269.14 L324,269 L327,268.86 L330,268.72 L333,268.58 L336,268.44 L339,268.29 L342,268.15 L345,268.01 L348,267.87 L351,267.73 L354,267.59 L357,267.46 L360,267.33 L363,267.2 L366,267.08 L369,266.97 L372,266.85 L375,266.74 L378,266.62 L381,266.49 L384,266.36 L387,266.23 L390,266.08 L393,265.92 L396,265.75 L399,265.57 L402,265.36 L405,265.11 L408,264.82 L411,264.51 L414,264.16 L417,263.8 L420,263.42 L423,263.04 L426,262.65 L429,262.26 L432,261.87 L435,261.48 L438,261.08 L441,260.66 L444,260.23 L447,259.79 L450,259.34 L453,258.88 L456,258.41 L459,257.94 L462,257.47 L465,257 L468,256.53 L471,256.05 L474,255.55 L477,255.03 L480,254.47 L483,253.87 L486,253.23 L489,252.54 L492,251.74 L495,250.75 L498,249.68 L501,248.68 L504,247.73 L507,246.78 L510,245.85 L513,244.92 L516,244 L519,243.07 L522,242.13 L525,241.18 L528,240.24 L531,239.29 L534,238.35 L537,237.4 L540,236.44 L543,235.46 L546,234.47 L549,233.46 L552,232.43 L555,231.38 L558,230.31 L561,229.23 L564,228.14 L567,227.04 L570,225.94 L573,224.83 L576,223.74 L579,222.64 L582,221.53 L585,220.4 L588,219.22 L591,218 L594,216.69 L597,215.3 L697.7,215.3" stroke="#DF536B"/>
<path d="M132,215.3 L545,215.3 L697.7,215.3" stroke="#61D04F"/>
<path d="M132,160 L135,160.02 L138,160.05 L141,160.07 L144,160.1 L147,160.13 L150,160.16 L153,160.19 L156,160.23 L159,160.26 L162,160.3 L165,160.33 L168,160.37 L171,160.41 L174,160.45 L177,160.49 L180,160.54 L183,160.58 L186,160.62 L189,160.67 L192,160.72 L195,160.76 L198,160.81 L201,160.86 L204,160.91 L207,160.96 L210,161.01 L213,161.06 L216,161.12 L219,161.17 L222,161.22 L225,161.28 L228,161.33 L231,161.39 L234,161.44 L237,161.5 L240,161.56 L243,161.61 L246,161.67 L249,161.73 L252,161.79 L255,161.85 L258,161.91 L261,161.97 L264,162.04 L267,162.11 L270,162.17 L273,162.24 L276,162.32 L279,162.39 L282,162.46 L285,162.54 L288,162.62 L291,162.7 L294,162.78 L297,162.87 L300,162.95 L303,163.04 L306,163.13 L309,163.22 L312,163.32 L315,163.41 L318,163.51 L321,163.61 L324,163.72 L327,163.82 L330,163.93 L333,164.03 L336,164.14 L339,164.25 L342,164.37 L345,164.49 L348,164.61 L351,164.73 L354,164.86 L357,164.99 L360,165.13 L363,165.27 L366,165.41 L369,165.56 L372,165.72 L375,165.88 L378,166.05 L381,166.22 L384,166.41 L387,166.59 L390,166.79 L393,166.99 L396,167.21 L399,167.42 L402,167.66 L405,167.93 L408,168.23 L411,168.56 L414,168.92 L417,169.3 L420,169.71 L423,170.13 L426,170.56 L429,171.01 L432,171.47 L435,171.93 L438,172.39 L441,172.86 L444,173.34 L447,173.84 L450,174.36 L453,174.9 L456,175.46 L459,176.03 L462,176.62 L465,177.22 L468,177.82 L471,178.44 L474,179.06 L477,179.69 L480,180.33 L483,180.98 L486,181.64 L489,182.33 L492,183.03 L495,183.75 L498,184.5 L501,185.27 L504,186.06 L507,186.91 L510,187.82 L513,188.77 L516,189.74 L519,190.71 L522,191.68 L525,192.62 L528,193.52 L531,194.4 L534,195.27 L537,196.15 L540,197.05 L543,198 L546,198.99 L549,200.03 L552,201.09 L555,202.16 L558,203.23 L561,204.28 L564,205.33 L567,206.36 L570,207.41 L573,208.46 L576,209.54 L579,210.65 L582,211.82 L585,212.97 L588,214.04 L591,215 L592,215.3 L697.7,215.3" stroke="#2297E6"/>
<path d="M132,152.5 L135,152.52 L138,152.55 L141,152.57 L144,152.6 L147,152.63 L150,152.66 L153,152.69 L156,152.72 L159,152.76 L162,152.79 L165,152.83 L168,152.87 L171,152.91 L174,152.95 L177,152.99 L180,153.03 L183,153.08 L186,153.12 L189,153.17 L192,153.22 L195,153.27 L198,153.32 L201,153.37 L204,153.42 L207,153.48 L210,153.53 L213,153.59 L216,153.64 L219,153.7 L222,153.76 L225,153.82 L228,153.88 L231,153.94 L234,154 L237,154.06 L240,154.12 L243,154.19 L246,154.25 L249,154.32 L252,154.38 L255,154.45 L258,154.52 L261,154.58 L264,154.65 L267,154.72 L270,154.79 L273,154.86 L276,154.93 L279,155 L282,155.07 L285,155.14 L288,155.21 L291,155.28 L294,155.36 L297,155.43 L300,155.5 L303,155.57 L306,155.65 L309,155.72 L312,155.8 L315,155.87 L318,155.95 L321,156.03 L324,156.11 L327,156.19 L330,156.28 L333,156.37 L336,156.46 L339,156.55 L342,156.65 L345,156.75 L348,156.86 L351,156.97 L354,157.08 L357,157.19 L360,157.32 L363,157.44 L366,157.57 L369,157.71 L372,157.85 L375,158 L378,158.16 L381,158.34 L384,158.53 L387,158.74 L390,158.96 L393,159.2 L396,159.45 L399,159.71 L402,159.99 L405,160.28 L408,160.59 L411,160.9 L414,161.23 L417,161.56 L420,161.91 L423,162.26 L426,162.63 L429,163.08 L432,163.58 L435,164.11 L438,164.61 L441,165.04 L444,165.43 L447,165.81 L450,166.18 L453,166.54 L456,166.88 L459,167.22 L462,167.54 L465,167.86 L468,168.17 L471,168.48 L474,168.78 L477,169.07 L480,169.32 L483,169.56 L486,169.8 L489,170.03 L492,170.27 L495,170.52 L498,170.8 L501,171.12 L504,171.48 L507,171.92 L510,172.45 L513,173.04 L516,173.67 L519,174.32 L522,174.96 L525,175.58 L528,176.16 L531,176.72 L534,177.28 L537,177.86 L540,178.49 L543,179.17 L546,179.94 L549,180.78 L552,181.69 L555,182.63 L558,183.59 L561,184.56 L564,185.55 L567,186.58 L570,187.63 L573,188.72 L576,189.83 L579,190.95 L582,192.1 L585,193.28 L588,194.49 L591,195.75 L594,197.06 L597,198.41 L600,199.8 L603,201.28 L606,202.87 L609,204.64 L612,206.73 L615,208.92 L618,211.06 L621,213.06 L624,214.3 L627,215.15 L628,215.3 L697.7,215.3" stroke="#28E2E5"/>
<path d="M540,215.3 L697.7,215.3" stroke="#CD0BBC"/>
</g>
<g clip-path="url(#clipA)" font-family='"Liberation Sans", "DejaVu Sans", sans-serif' font-size="11" fill="#000">
<text transform="translate(120,193.2) scale(0.95,1)" text-anchor="end">1</text>
<text transform="translate(120,162.9) scale(0.95,1)" text-anchor="end">2</text>
<text transform="translate(120,111.4) scale(0.95,1)" text-anchor="end">3</text>
<text transform="translate(120,179.15) scale(0.95,1)" text-anchor="end">4</text>
<text transform="translate(120,346.8) scale(0.95,1)" text-anchor="end">5</text>
<text transform="translate(120,137.65) scale(0.95,1)" text-anchor="end">6</text>
<text transform="translate(120,218.7) scale(0.95,1)" text-anchor="end">7</text>
<text transform="translate(120,331.9) scale(0.95,1)" text-anchor="end">8</text>
<text transform="translate(120,412.1) scale(0.95,1)" text-anchor="end">9</text>
<text transform="translate(120,192.9) scale(0.95,1)" text-anchor="end">10</text>
<text transform="translate(120,214.1) scale(0.95,1)" text-anchor="end">11</text>
<text transform="translate(120,225.7) scale(0.95,1)" text-anchor="end">12</text>
<text transform="translate(120,269.1) scale(0.95,1)" text-anchor="end">13</text>
<text transform="translate(120,356) scale(0.95,1)" text-anchor="end">14</text>
<text transform="translate(120,210.7) scale(0.95,1)" text-anchor="end">15</text>
<text transform="translate(120,209.1) scale(0.95,1)" text-anchor="end">16</text>
<text transform="translate(120,222.4) scale(0.95,1)" text-anchor="end">17</text>
<text transform="translate(120,328.2) scale(0.95,1)" text-anchor="end">18</text>
<text transform="translate(120,193.2) scale(0.95,1)" text-anchor="end">19</text>
<text transform="translate(120,215.9) scale(0.95,1)" text-anchor="end">21</text>
<text transform="translate(120,462.8) scale(0.95,1)" text-anchor="end">22</text>
<text transform="translate(120,192.9) scale(0.95,1)" text-anchor="end">23</text>
<text transform="translate(120,193.65) scale(0.95,1)" text-anchor="end">24</text>
<text transform="translate(120,232.1) scale(0.95,1)" text-anchor="end">26</text>
<text transform="translate(120,219.9) scale(0.95,1)" text-anchor="end">27</text>
<text transform="translate(120,239.1) scale(0.95,1)" text-anchor="end">28</text>
<text transform="translate(120,242.1) scale(0.95,1)" text-anchor="end">30</text>
<text transform="translate(120,233.2) scale(0.95,1)" text-anchor="end">33</text>
<text transform="translate(120,272.4) scale(0.95,1)" text-anchor="end">34</text>
<text transform="translate(120,269.9) scale(0.95,1)" text-anchor="end">35</text>
<text transform="translate(120,203.2) scale(0.95,1)" text-anchor="end">37</text>
<text transform="translate(120,275.4) scale(0.95,1)" text-anchor="end">38</text>
<text transform="translate(120,217.7) scale(0.95,1)" text-anchor="end">39</text>
<text transform="translate(120,162.4) scale(0.95,1)" text-anchor="end">40</text>
<text transform="translate(120,154.9) scale(0.95,1)" text-anchor="end">41</text>
<text transform="translate(120,217.7) scale(0.95,1)" text-anchor="end">42</text>
</g>
<path d="M605.05,99.9 V476" clip-path="url(#clipA)" fill="none" stroke="#000" stroke-width="2.68" stroke-dasharray="10.7 10.7" stroke-linecap="round"/>
<g fill="none" stroke="#000" stroke-width="1.45" stroke-linejoin="round">
<rect x="110.15" y="94.85" width="610.25" height="379.65"/>
<path d="M142.6,474.5 V487"/>
<path d="M142.6,94.85 V90.2" stroke-width="1.1"/>
<path d="M233.2,474.5 V487"/>
<path d="M233.2,94.85 V90.2" stroke-width="1.1"/>
<path d="M323.8,474.5 V487"/>
<path d="M323.8,94.85 V90.2" stroke-width="1.1"/>
<path d="M414.4,474.5 V487"/>
<path d="M414.4,94.85 V90.2" stroke-width="1.1"/>
<path d="M505,474.5 V487"/>
<path d="M505,94.85 V90.2" stroke-width="1.1"/>
<path d="M595.6,474.5 V487"/>
<path d="M595.6,94.85 V90.2" stroke-width="1.1"/>
<path d="M686.2,474.5 V487"/>
<path d="M686.2,94.85 V90.2" stroke-width="1.1"/>
<path d="M110.15,112 H97.2"/>
<path d="M110.15,163.65 H97.2"/>
<path d="M110.15,215.3 H97.2"/>
<path d="M110.15,266.95 H97.2"/>
<path d="M110.15,318.6 H97.2"/>
<path d="M110.15,370.25 H97.2"/>
<path d="M110.15,421.9 H97.2"/>
<path d="M110.15,473.55 H97.2"/>
</g>
<g font-family='"Liberation Sans", "DejaVu Sans", sans-serif' font-size="22.1" fill="#000" stroke="#000" stroke-width="0.25">
<text transform="translate(142.6,64.4) scale(0.98,1)" text-anchor="middle">42</text>
<text transform="translate(142.8,520.8) scale(0.98,1)" text-anchor="middle">-8</text>
<text transform="translate(233.2,64.4) scale(0.98,1)" text-anchor="middle">40</text>
<text transform="translate(233.4,520.8) scale(0.98,1)" text-anchor="middle">-7</text>
<text transform="translate(323.8,64.4) scale(0.98,1)" text-anchor="middle">39</text>
<text transform="translate(324,520.8) scale(0.98,1)" text-anchor="middle">-6</text>
<text transform="translate(414.4,64.4) scale(0.98,1)" text-anchor="middle">32</text>
<text transform="translate(414.6,520.8) scale(0.98,1)" text-anchor="middle">-5</text>
<text transform="translate(505,64.4) scale(0.98,1)" text-anchor="middle">18</text>
<text transform="translate(505.2,520.8) scale(0.98,1)" text-anchor="middle">-4</text>
<text transform="translate(595.6,64.4) scale(0.98,1)" text-anchor="middle">8</text>
<text transform="translate(595.8,520.8) scale(0.98,1)" text-anchor="middle">-3</text>
<text transform="translate(686.2,64.4) scale(0.98,1)" text-anchor="middle">1</text>
<text transform="translate(686.4,520.8) scale(0.98,1)" text-anchor="middle">-2</text>
<text transform="translate(415.2,571.6) scale(0.963,1)" text-anchor="middle">Log Lambda</text>
<text transform="translate(79.6,112) rotate(-90) scale(0.925,1)" text-anchor="middle">1.0</text>
<text transform="translate(79.6,163.65) rotate(-90) scale(0.925,1)" text-anchor="middle">0.5</text>
<text transform="translate(79.6,215.3) rotate(-90) scale(0.925,1)" text-anchor="middle">0.0</text>
<text transform="translate(79.6,266.95) rotate(-90) scale(0.925,1)" text-anchor="middle">-0.5</text>
<text transform="translate(79.6,370.25) rotate(-90) scale(0.925,1)" text-anchor="middle">-1.5</text>
<text transform="translate(79.6,473.55) rotate(-90) scale(0.925,1)" text-anchor="middle">-2.5</text>
<text transform="translate(29.2,284.7) rotate(-90) scale(0.98,1)" text-anchor="middle">Coefficients</text>
</g>
<g clip-path="url(#clipB)">
<path d="M939.1,108.3 V319.5 M933.1,108.3 H945.1 M933.1,319.5 H945.1 M947.53,110.3 V320.5 M941.53,110.3 H953.53 M941.53,320.5 H953.53 M955.97,112.2 V321.5 M949.97,112.2 H961.97 M949.97,321.5 H961.97 M964.4,114.2 V322.7 M958.4,114.2 H970.4 M958.4,322.7 H970.4 M972.84,116.3 V324.2 M966.84,116.3 H978.84 M966.84,324.2 H978.84 M981.27,118.8 V325.8 M975.27,118.8 H987.27 M975.27,325.8 H987.27 M989.7,121.2 V327.5 M983.7,121.2 H995.7 M983.7,327.5 H995.7 M998.14,123.8 V329.7 M992.14,123.8 H1004.14 M992.14,329.7 H1004.14 M1006.57,126.3 V331.3 M1000.57,126.3 H1012.57 M1000.57,331.3 H1012.57 M1015.01,129.5 V333.3 M1009.01,129.5 H1021.01 M1009.01,333.3 H1021.01 M1023.44,132.3 V335.3 M1017.44,132.3 H1029.44 M1017.44,335.3 H1029.44 M1031.87,135.3 V337.2 M1025.87,135.3 H1037.87 M1025.87,337.2 H1037.87 M1040.31,138.7 V339.3 M1034.31,138.7 H1046.31 M1034.31,339.3 H1046.31 M1048.74,142 V341.3 M1042.74,142 H1054.74 M1042.74,341.3 H1054.74 M1057.18,145.5 V343.3 M1051.18,145.5 H1063.18 M1051.18,343.3 H1063.18 M1065.61,149.3 V345.5 M1059.61,149.3 H1071.61 M1059.61,345.5 H1071.61 M1074.04,153.3 V347.8 M1068.04,153.3 H1080.04 M1068.04,347.8 H1080.04 M1082.48,157.7 V350 M1076.48,157.7 H1088.48 M1076.48,350 H1088.48 M1090.91,162 V352.5 M1084.91,162 H1096.91 M1084.91,352.5 H1096.91 M1099.35,166.3 V355 M1093.35,166.3 H1105.35 M1093.35,355 H1105.35 M1107.78,171.3 V357.8 M1101.78,171.3 H1113.78 M1101.78,357.8 H1113.78 M1116.21,176.3 V360.3 M1110.21,176.3 H1122.21 M1110.21,360.3 H1122.21 M1124.65,181.7 V363.3 M1118.65,181.7 H1130.65 M1118.65,363.3 H1130.65 M1133.08,187 V366 M1127.08,187 H1139.08 M1127.08,366 H1139.08 M1141.52,193.5 V368.8 M1135.52,193.5 H1147.52 M1135.52,368.8 H1147.52 M1149.95,200 V372.2 M1143.95,200 H1155.95 M1143.95,372.2 H1155.95 M1158.38,206.3 V375.4 M1152.38,206.3 H1164.38 M1152.38,375.4 H1164.38 M1166.82,212.3 V378.7 M1160.82,212.3 H1172.82 M1160.82,378.7 H1172.82 M1175.25,219.6 V382.2 M1169.25,219.6 H1181.25 M1169.25,382.2 H1181.25 M1183.69,226.7 V385.8 M1177.69,226.7 H1189.69 M1177.69,385.8 H1189.69 M1192.12,234.3 V389.5 M1186.12,234.3 H1198.12 M1186.12,389.5 H1198.12 M1200.55,242 V393.3 M1194.55,242 H1206.55 M1194.55,393.3 H1206.55 M1208.99,249.7 V397.2 M1202.99,249.7 H1214.99 M1202.99,397.2 H1214.99 M1217.42,258 V401.3 M1211.42,258 H1223.42 M1211.42,401.3 H1223.42 M1225.86,267 V405.8 M1219.86,267 H1231.86 M1219.86,405.8 H1231.86 M1234.29,276.3 V410.8 M1228.29,276.3 H1240.29 M1228.29,410.8 H1240.29 M1242.72,286 V415.5 M1236.72,286 H1248.72 M1236.72,415.5 H1248.72 M1251.16,295.5 V420 M1245.16,295.5 H1257.16 M1245.16,420 H1257.16 M1259.59,303.8 V424.2 M1253.59,303.8 H1265.59 M1253.59,424.2 H1265.59 M1268.03,312.5 V428 M1262.03,312.5 H1274.03 M1262.03,428 H1274.03 M1276.46,322 V433 M1270.46,322 H1282.46 M1270.46,433 H1282.46 M1284.89,332 V438 M1278.89,332 H1290.89 M1278.89,438 H1290.89 M1293.33,341.7 V442.8 M1287.33,341.7 H1299.33 M1287.33,442.8 H1299.33 M1301.76,351.2 V447.5 M1295.76,351.2 H1307.76 M1295.76,447.5 H1307.76 M1310.2,359.5 V451.7 M1304.2,359.5 H1316.2 M1304.2,451.7 H1316.2 M1318.63,367.2 V455 M1312.63,367.2 H1324.63 M1312.63,455 H1324.63 M1327.06,375 V457.5 M1321.06,375 H1333.06 M1321.06,457.5 H1333.06 M1335.5,381.2 V459.7 M1329.5,381.2 H1341.5 M1329.5,459.7 H1341.5 M1343.93,385 V460 M1337.93,385 H1349.93 M1337.93,460 H1349.93 M1352.37,387.2 V458.8 M1346.37,387.2 H1358.37 M1346.37,458.8 H1358.37 M1360.8,388 V456.2 M1354.8,388 H1366.8 M1354.8,456.2 H1366.8 M1369.23,387.2 V451.3 M1363.23,387.2 H1375.23 M1363.23,451.3 H1375.23 M1377.67,384.5 V444.2 M1371.67,384.5 H1383.67 M1371.67,444.2 H1383.67 M1386.1,379.7 V435.8 M1380.1,379.7 H1392.1 M1380.1,435.8 H1392.1 M1394.54,375 V427.5 M1388.54,375 H1400.54 M1388.54,427.5 H1400.54 M1402.97,370 V419.3 M1396.97,370 H1408.97 M1396.97,419.3 H1408.97 M1411.4,365.5 V412 M1405.4,365.5 H1417.4 M1405.4,412 H1417.4 M1419.84,360.8 V405.2 M1413.84,360.8 H1425.84 M1413.84,405.2 H1425.84 M1428.27,355.7 V398.7 M1422.27,355.7 H1434.27 M1422.27,398.7 H1434.27 M1436.71,350.1 V391 M1430.71,350.1 H1442.71 M1430.71,391 H1442.71 M1445.14,343.9 V383.3 M1439.14,343.9 H1451.14 M1439.14,383.3 H1451.14 M1453.57,335.8 V372.5 M1447.57,335.8 H1459.57 M1447.57,372.5 H1459.57 M1462.01,326.4 V360.4 M1456.01,326.4 H1468.01 M1456.01,360.4 H1468.01 M1470.44,316.7 V345.5 M1464.44,316.7 H1476.44 M1464.44,345.5 H1476.44 M1478.88,306.6 V329.9 M1472.88,306.6 H1484.88 M1472.88,329.9 H1484.88 M1487.31,296.7 V315.7 M1481.31,296.7 H1493.31 M1481.31,315.7 H1493.31 M1495.74,285.1 V300.8 M1489.74,285.1 H1501.74 M1489.74,300.8 H1501.74 M1504.18,277.8 V289.5 M1498.18,277.8 H1510.18 M1498.18,289.5 H1510.18" fill="none" stroke="#A6A6A6" stroke-width="1.35"/>
<g fill="#F40606">
<circle cx="939.1" cy="214.1" r="3.7"/>
<circle cx="947.53" cy="215.8" r="3.7"/>
<circle cx="955.97" cy="217.3" r="3.7"/>
<circle cx="964.4" cy="219.1" r="3.7"/>
<circle cx="972.84" cy="221" r="3.7"/>
<circle cx="981.27" cy="222.8" r="3.7"/>
<circle cx="989.7" cy="225" r="3.7"/>
<circle cx="998.14" cy="227" r="3.7"/>
<circle cx="1006.57" cy="229.1" r="3.7"/>
<circle cx="1015.01" cy="231.5" r="3.7"/>
<circle cx="1023.44" cy="234" r="3.7"/>
<circle cx="1031.87" cy="236.5" r="3.7"/>
<circle cx="1040.31" cy="239.5" r="3.7"/>
<circle cx="1048.74" cy="242" r="3.7"/>
<circle cx="1057.18" cy="245" r="3.7"/>
<circle cx="1065.61" cy="248" r="3.7"/>
<circle cx="1074.04" cy="251" r="3.7"/>
<circle cx="1082.48" cy="254.3" r="3.7"/>
<circle cx="1090.91" cy="257.5" r="3.7"/>
<circle cx="1099.35" cy="261" r="3.7"/>
<circle cx="1107.78" cy="264.5" r="3.7"/>
<circle cx="1116.21" cy="268.6" r="3.7"/>
<circle cx="1124.65" cy="272.8" r="3.7"/>
<circle cx="1133.08" cy="277" r="3.7"/>
<circle cx="1141.52" cy="281.5" r="3.7"/>
<circle cx="1149.95" cy="286.1" r="3.7"/>
<circle cx="1158.38" cy="291.1" r="3.7"/>
<circle cx="1166.82" cy="295.9" r="3.7"/>
<circle cx="1175.25" cy="301.1" r="3.7"/>
<circle cx="1183.69" cy="306.6" r="3.7"/>
<circle cx="1192.12" cy="312.3" r="3.7"/>
<circle cx="1200.55" cy="318.1" r="3.7"/>
<circle cx="1208.99" cy="324.1" r="3.7"/>
<circle cx="1217.42" cy="330.3" r="3.7"/>
<circle cx="1225.86" cy="337" r="3.7"/>
<circle cx="1234.29" cy="344.1" r="3.7"/>
<circle cx="1242.72" cy="351.5" r="3.7"/>
<circle cx="1251.16" cy="358.3" r="3.7"/>
<circle cx="1259.59" cy="364.8" r="3.7"/>
<circle cx="1268.03" cy="370.9" r="3.7"/>
<circle cx="1276.46" cy="377.3" r="3.7"/>
<circle cx="1284.89" cy="385.3" r="3.7"/>
<circle cx="1293.33" cy="392.5" r="3.7"/>
<circle cx="1301.76" cy="399.8" r="3.7"/>
<circle cx="1310.2" cy="405.6" r="3.7"/>
<circle cx="1318.63" cy="411.5" r="3.7"/>
<circle cx="1327.06" cy="416.6" r="3.7"/>
<circle cx="1335.5" cy="420.6" r="3.7"/>
<circle cx="1343.93" cy="422.8" r="3.7"/>
<circle cx="1352.37" cy="423.3" r="3.7"/>
<circle cx="1360.8" cy="422.5" r="3.7"/>
<circle cx="1369.23" cy="419.6" r="3.7"/>
<circle cx="1377.67" cy="414.8" r="3.7"/>
<circle cx="1386.1" cy="408.3" r="3.7"/>
<circle cx="1394.54" cy="401.5" r="3.7"/>
<circle cx="1402.97" cy="395.3" r="3.7"/>
<circle cx="1411.4" cy="389.2" r="3.7"/>
<circle cx="1419.84" cy="383.3" r="3.7"/>
<circle cx="1428.27" cy="377.1" r="3.7"/>
<circle cx="1436.71" cy="370.7" r="3.7"/>
<circle cx="1445.14" cy="363.9" r="3.7"/>
<circle cx="1453.57" cy="354.7" r="3.7"/>
<circle cx="1462.01" cy="343.4" r="3.7"/>
<circle cx="1470.44" cy="331.4" r="3.7"/>
<circle cx="1478.88" cy="318.8" r="3.7"/>
<circle cx="1487.31" cy="306.7" r="3.7"/>
<circle cx="1495.74" cy="293.2" r="3.7"/>
<circle cx="1504.18" cy="284" r="3.7"/>
</g>
<path d="M1352.35,474.1 V94.3" fill="none" stroke="#000" stroke-width="1.4" stroke-dasharray="1.2 4.23" stroke-linecap="round"/>
<path d="M1411.45,474.1 V94.3" fill="none" stroke="#000" stroke-width="1.4" stroke-dasharray="1.2 4.23" stroke-linecap="round"/>
</g>
<g fill="none" stroke="#000" stroke-width="1.45" stroke-linejoin="round">
<rect x="916.65" y="94.3" width="610.45" height="379.8"/>
<path d="M948.8,474.1 V487.2"/>
<path d="M1039.5,474.1 V487.2"/>
<path d="M1130.2,474.1 V487.2"/>
<path d="M1220.9,474.1 V487.2"/>
<path d="M1311.6,474.1 V487.2"/>
<path d="M1402.3,474.1 V487.2"/>
<path d="M1493,474.1 V487.2"/>
<path d="M916.65,115.6 H903"/>
<path d="M916.65,167.37 H903"/>
<path d="M916.65,219.13 H903"/>
<path d="M916.65,270.9 H903"/>
<path d="M916.65,322.66 H903"/>
<path d="M916.65,374.42 H903"/>
<path d="M916.65,426.19 H903"/>
</g>
<g font-family='"Liberation Sans", "DejaVu Sans", sans-serif' font-size="22.1" fill="#000" stroke="#000" stroke-width="0.25">
<text transform="translate(939.1,64.1) scale(0.98,1)" text-anchor="middle">42</text>
<text transform="translate(981.27,64.1) scale(0.98,1)" text-anchor="middle">42</text>
<text transform="translate(1023.44,64.1) scale(0.98,1)" text-anchor="middle">40</text>
<text transform="translate(1065.61,64.1) scale(0.98,1)" text-anchor="middle">40</text>
<text transform="translate(1107.78,64.1) scale(0.98,1)" text-anchor="middle">40</text>
<text transform="translate(1149.95,64.1) scale(0.98,1)" text-anchor="middle">39</text>
<text transform="translate(1192.12,64.1) scale(0.98,1)" text-anchor="middle">37</text>
<text transform="translate(1234.29,64.1) scale(0.98,1)" text-anchor="middle">28</text>
<text transform="translate(1276.46,64.1) scale(0.98,1)" text-anchor="middle">25</text>
<text transform="translate(1318.63,64.1) scale(0.98,1)" text-anchor="middle">15</text>
<text transform="translate(1360.8,64.1) scale(0.98,1)" text-anchor="middle">10</text>
<text transform="translate(1402.97,64.1) scale(0.98,1)" text-anchor="middle">6</text>
<text transform="translate(1436.71,64.1) scale(0.98,1)" text-anchor="middle">2</text>
<text transform="translate(1470.44,64.1) scale(0.98,1)" text-anchor="middle">2</text>
<text transform="translate(1504.18,64.1) scale(0.98,1)" text-anchor="middle">0</text>
<text transform="translate(949.1,520.7) scale(0.98,1)" text-anchor="middle">-8</text>
<text transform="translate(1039.8,520.7) scale(0.98,1)" text-anchor="middle">-7</text>
<text transform="translate(1130.5,520.7) scale(0.98,1)" text-anchor="middle">-6</text>
<text transform="translate(1221.2,520.7) scale(0.98,1)" text-anchor="middle">-5</text>
<text transform="translate(1311.9,520.7) scale(0.98,1)" text-anchor="middle">-4</text>
<text transform="translate(1402.6,520.7) scale(0.98,1)" text-anchor="middle">-3</text>
<text transform="translate(1493.3,520.7) scale(0.98,1)" text-anchor="middle">-2</text>
<text transform="translate(885.9,115.3) rotate(-90) scale(0.94,1)" text-anchor="middle">1.55</text>
<text transform="translate(885.9,218.83) rotate(-90) scale(0.94,1)" text-anchor="middle">1.45</text>
<text transform="translate(885.9,322.36) rotate(-90) scale(0.94,1)" text-anchor="middle">1.35</text>
<text transform="translate(885.9,425.89) rotate(-90) scale(0.94,1)" text-anchor="middle">1.25</text>
<text transform="translate(835.5,283.8) rotate(-90) scale(0.969,1)" text-anchor="middle">Binomial Deviance</text>
<text transform="translate(1187.4,567) scale(0.955,1)" text-anchor="start">Log</text>
<text transform="translate(1223.6,565.6) scale(0.9,1)" text-anchor="start" font-size="25.8">(</text>
<text transform="translate(1233.9,567) scale(0.98,1)" text-anchor="start">λ</text>
<text transform="translate(1247.3,565.6) scale(0.9,1)" text-anchor="start" font-size="25.8">)</text>
</g>
</svg>
</body>
</html>
